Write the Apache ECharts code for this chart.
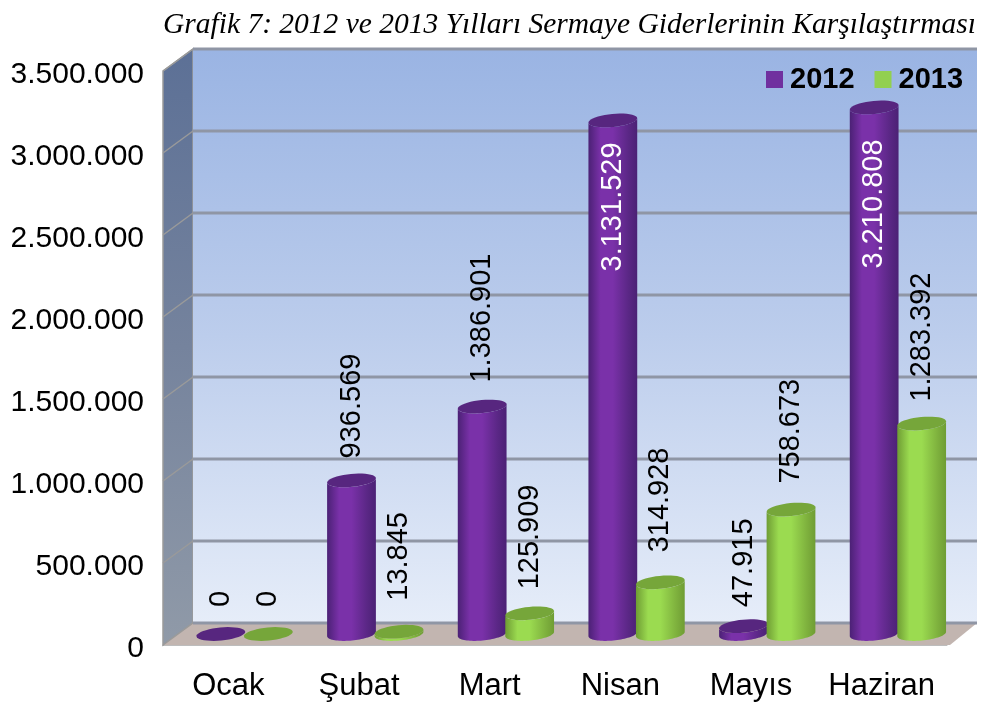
<!DOCTYPE html>
<html><head><meta charset="utf-8">
<style>html,body{margin:0;padding:0;background:#fff}#c{width:982px;height:705px}</style>
<script src="https://cdn.jsdelivr.net/npm/echarts@6/dist/echarts.min.js"></script>
</head><body><div id="c"></div>
<script>
var categories = ['Ocak','Şubat','Mart','Nisan','Mayıs','Haziran'];
var values2012 = [0,936569,1386901,3131529,47915,3210808];
var values2013 = [0,13845,125909,314928,758673,1283392];
var axisTicks = [0,500000,1000000,1500000,2000000,2500000,3000000,3500000];
var titleText = 'Grafik 7: 2012 ve 2013 Yılları Sermaye Giderlerinin Karşılaştırması';

var DX = 30, DY = -22, RX = 24.5, RY = 6.5, TILT = 5.5 * Math.PI / 180, BASE = 11;
var FONT = '"Liberation Sans", Arial, sans-serif';
function fmt(v){ return String(v).replace(/\B(?=(\d{3})+$)/g,'.'); }
function arc(cx,cy,a0,a1){
  var pts=[], n=40;
  for(var i=0;i<=n;i++){
    var a=a0+(a1-a0)*i/n, x=RX*Math.cos(a), y=RY*Math.sin(a);
    pts.push([cx+x*Math.cos(TILT)+y*Math.sin(TILT), cy-x*Math.sin(TILT)+y*Math.cos(TILT)]);
  }
  return pts;
}
function hGrad(edge,mid,edge2){
  return {type:'linear',x:0,y:0,x2:1,y2:0,colorStops:[
    {offset:0,color:edge},{offset:.25,color:mid},{offset:.5,color:mid},{offset:.82,color:edge2},{offset:1,color:edge}]};
}
function cylinder(offset,colors,labelGaps,insideFrom){
  return function(params,api){
    var idx=api.value(0), v=api.value(1);
    var p0=api.coord([idx,0]), p=api.coord([idx,v]);
    var cx=p0[0]+offset, by=p0[1]-BASE, ty=p[1]-BASE;
    var kids=[];
    var side=arc(cx,by,Math.PI,0).concat(arc(cx,ty,0,Math.PI));
    kids.push({type:'polygon',shape:{points:side},style:{fill:hGrad(colors.edge,colors.mid,colors.edge2)}});
    kids.push({type:'polygon',shape:{points:arc(cx,ty,0,Math.PI*2)},style:{fill:colors.top}});
    var inside=v>=insideFrom;
    var gap=labelGaps[params.dataIndex];
    kids.push({type:'text',x:cx,
      y:inside?ty+gap:ty-gap,rotation:Math.PI/2,
      style:{text:fmt(v),fill:inside?'#fff':'#000',font:'29px '+FONT,
        align:inside?'right':'left',verticalAlign:'middle'}});
    return {type:'group',children:kids};
  };
}
var purple={edge:'#4b2175',mid:'#7a31a9',edge2:'#5a2785',top:'#57267f'};
var green={edge:'#6f9d34',mid:'#9bdb50',edge2:'#7fb23e',top:'#76a63a'};

var chart=echarts.init(document.getElementById('c'),null,{renderer:'canvas'});
chart.setOption({
  animation:false,
  backgroundColor:'#fff',
  title:{text:titleText,left:163,top:10,padding:0,textStyle:{fontFamily:'"Liberation Serif",serif',fontStyle:'italic',fontWeight:'normal',fontSize:29.5,color:'#000'}},
  legend:{data:['2012','2013'],left:761,top:60,icon:'rect',itemWidth:17,itemHeight:17,itemGap:20,
    textStyle:{fontFamily:FONT,fontWeight:'bold',fontSize:29,color:'#000',padding:[0,0,0,2]}},
  grid:{left:163,top:71,width:784,height:574},
  xAxis:{type:'category',data:categories,axisLine:{show:true,lineStyle:{color:'#bdbdbd',width:1}},axisTick:{show:false},
    axisLabel:{interval:0,color:'#000',fontFamily:FONT,fontSize:31,margin:26},splitLine:{show:false}},
  yAxis:{type:'value',min:0,max:3500000,interval:500000,axisLine:{show:false},axisTick:{show:false},splitLine:{show:false},
    axisLabel:{margin:19,formatter:function(v){return '{t|'+fmt(v)+'}';},
      rich:{t:{color:'#000',fontFamily:FONT,fontSize:30,padding:[7,0,0,0]}}}},
  series:[
    {type:'custom',name:'walls',silent:true,data:[[0,0]],encode:{x:0,y:1},renderItem:function(params,api){
      var a=api.coord([0,0]), t=api.coord([0,3500000]);
      var L=params.coordSys.x, R=L+params.coordSys.width;
      var bot=a[1], top=t[1];
      return {type:'group',children:[
        {type:'polygon',shape:{points:[[L,top],[L+DX,top+DY],[L+DX,bot+DY],[L,bot]]},
          style:{fill:{type:'linear',x:0,y:0,x2:0,y2:1,colorStops:[{offset:0,color:'#5c7096'},{offset:.5,color:'#75839d'},{offset:1,color:'#909aa8'}]},stroke:'#9a9a9a',lineWidth:1.5}},
        {type:'polygon',shape:{points:[[L+DX,top+DY],[R+DX,top+DY],[R+DX,bot+DY],[L+DX,bot+DY]]},
          style:{fill:{type:'linear',x:0,y:0,x2:0,y2:1,colorStops:[{offset:0,color:'#9ab4e3'},{offset:.5,color:'#bccdec'},{offset:1,color:'#e6edf9'}]}}},
        {type:'polygon',shape:{points:[[L,bot],[L+DX,bot+DY],[R+DX,bot+DY],[R+3,bot]]},style:{fill:'#c2b5b0'}}
      ]};
    }},
    {type:'custom',name:'gridlines',silent:true,data:axisTicks.map(function(v){return [0,v];}),encode:{x:0,y:1},renderItem:function(params,api){
      var y=api.coord([0,api.value(1)])[1];
      var L=params.coordSys.x, R=L+params.coordSys.width;
      return {type:'group',children:[
        {type:'line',shape:{x1:L,y1:y,x2:L+DX,y2:y+DY},style:{stroke:'#9a9a9a',lineWidth:1.5}},
        {type:'line',shape:{x1:L+DX,y1:y+DY,x2:R+DX,y2:y+DY},style:{stroke:'#8f96a5',lineWidth:3}}
      ]};
    }},
    {type:'custom',name:'2012',itemStyle:{color:'#70309f'},encode:{x:0,y:1},
      data:values2012.map(function(v,i){return [i,v];}),
      renderItem:cylinder(-7.5,purple,[27,22,24,22,19,32],3000000)},
    {type:'custom',name:'2013',itemStyle:{color:'#92d050'},encode:{x:0,y:1},
      data:values2013.map(function(v,i){return [i,v];}),
      renderItem:cylinder(40,green,[27,31,24,30,26,22],3000000)}
  ]
});
</script></body></html>
